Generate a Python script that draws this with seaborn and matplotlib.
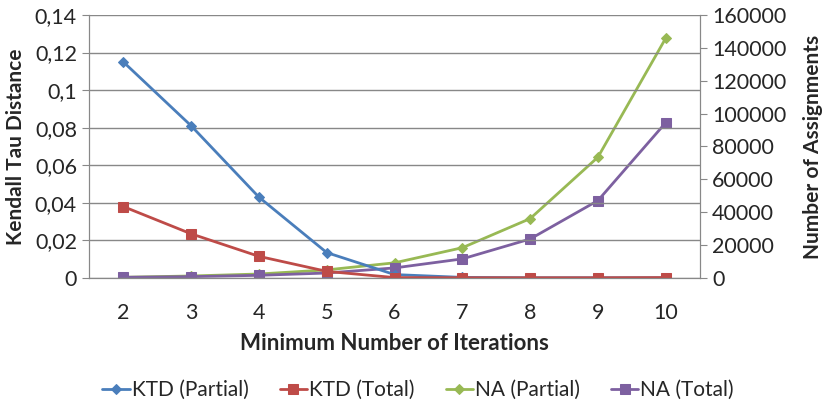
import pandas as pd
import matplotlib
matplotlib.use('Agg')
import matplotlib.pyplot as plt
import seaborn as sns
from matplotlib.ticker import FuncFormatter, MultipleLocator

# Values
iterations = [2, 3, 4, 5, 6, 7, 8, 9, 10]
ktd_partial = [0.115, 0.081, 0.043, 0.0135, 0.0018, 0.0003, 0.0001, 0.0001, 0.0001]
ktd_total = [0.038, 0.0235, 0.0115, 0.0035, 0.0002, 0.0001, 0.0001, 0.0001, 0.0002]
na_partial = [400, 1200, 2400, 4900, 9200, 18400, 36100, 73500, 145900]
na_total = [400, 800, 1600, 3000, 6100, 11600, 23700, 47100, 94500]

colors = {'KTD (Partial)': '#4A7EBB', 'KTD (Total)': '#BE4B48',
          'NA (Partial)': '#98B954', 'NA (Total)': '#7D60A0'}
markers = {'KTD (Partial)': 'D', 'KTD (Total)': 's',
           'NA (Partial)': 'D', 'NA (Total)': 's'}


def comma(v, pos):
    if v == 0:
        return '0'
    return f"{v:.2f}".rstrip('0').rstrip('.').replace('.', ',')


def main():
    sns.set_style('white')
    plt.rcParams['font.family'] = ['Lato', 'DejaVu Sans']

    left = pd.DataFrame({'it': iterations * 2,
                         'val': ktd_partial + ktd_total,
                         'series': ['KTD (Partial)'] * 9 + ['KTD (Total)'] * 9})
    right = pd.DataFrame({'it': iterations * 2,
                          'val': na_partial + na_total,
                          'series': ['NA (Partial)'] * 9 + ['NA (Total)'] * 9})

    fig = plt.figure(figsize=(8.28, 4.04), dpi=100)
    ax = fig.add_axes([0.108, 0.312, 0.737, 0.651])
    ax2 = ax.twinx()

    for name, grp in left.groupby('series', sort=False):
        sns.lineplot(data=grp, x='it', y='val', ax=ax, color=colors[name],
                     marker=markers[name], markersize=7 if markers[name] == 's' else 5.5,
                     markeredgecolor=colors[name], linewidth=2, label=name)
    for name, grp in right.groupby('series', sort=False):
        sns.lineplot(data=grp, x='it', y='val', ax=ax2, color=colors[name],
                     marker=markers[name], markersize=7 if markers[name] == 's' else 5.5,
                     markeredgecolor=colors[name], linewidth=2, label=name)

    ax.set_xlim(1.5, 10.5)
    ax.set_ylim(0, 0.14)
    ax2.set_ylim(0, 160000)
    ax.yaxis.set_major_locator(MultipleLocator(0.02))
    ax.yaxis.set_major_formatter(FuncFormatter(comma))
    ax2.yaxis.set_major_locator(MultipleLocator(20000))
    ax.set_xticks(iterations)
    ax.xaxis.set_minor_locator(MultipleLocator(1, offset=0.5))
    ax.tick_params(axis='x', which='major', length=0, labelsize=15.5, pad=18)
    ax.tick_params(axis='x', which='minor', length=5, color='#888888', direction='out')
    ax.tick_params(axis='y', length=5, color='#888888', direction='out', labelsize=15.5, pad=4)
    ax2.tick_params(axis='y', length=5, color='#888888', direction='out', labelsize=15.5, pad=4)

    ax.grid(axis='y', color='#888888', linewidth=1)
    ax.set_axisbelow(True)
    for a in (ax, ax2):
        a.spines['top'].set_visible(False)
        for s in ('left', 'right', 'bottom'):
            a.spines[s].set_color('#888888')
    ax.set_zorder(ax2.get_zorder() + 1)
    ax.patch.set_visible(False)

    ax.set_xlabel('Minimum Number of Iterations', fontsize=16, fontweight='bold', labelpad=7)
    ax.set_ylabel('Kendall Tau Distance', fontsize=15, fontweight='bold', labelpad=6)
    ax2.set_ylabel('Number of Assignments', fontsize=15, fontweight='bold', labelpad=12)

    h1, l1 = ax.get_legend_handles_labels()
    h2, l2 = ax2.get_legend_handles_labels()
    ax.get_legend().remove()
    ax2.get_legend().remove()
    fig.legend(h1 + h2, l1 + l2, loc='center', bbox_to_anchor=(0.505, 0.035), ncol=4,
               frameon=False, fontsize=15, handlelength=1.3, handletextpad=0.1,
               columnspacing=1.5)

    fig.savefig('out.png', dpi=100)
    plt.close(fig)


if __name__ == "__main__":
    main()
